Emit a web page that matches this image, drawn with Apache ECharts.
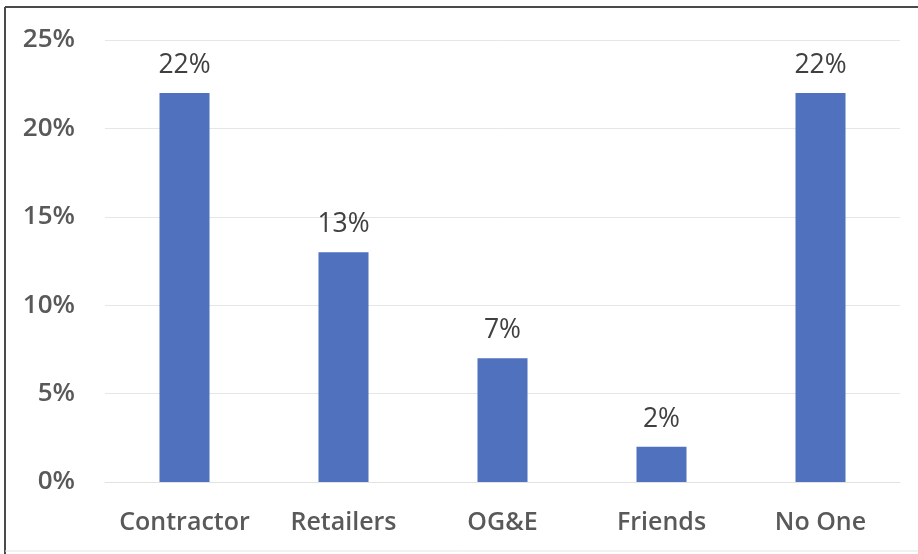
<!DOCTYPE html>
<html>
<head>
<meta charset="utf-8">
<script src="https://cdn.jsdelivr.net/npm/echarts@6/dist/echarts.min.js"></script>
<style>
  html, body { margin: 0; padding: 0; background: #fff; }
  #chart { width: 918px; height: 554px; }
</style>
</head>
<body>
<div id="chart"></div>
<script>
// Who respondents turned to (share of responses)
const categories = ['Contractor', 'Retailers', 'OG&E', 'Friends', 'No One'];
const shares = [22, 13, 7, 2, 22];
const yTicks = [0, 5, 10, 15, 20, 25];

const chart = echarts.init(document.getElementById('chart'));
chart.setOption({
  animation: false,
  backgroundColor: '#ffffff',
  graphic: [
    // frame lines around the chart
    { type: 'line', shape: { x1: 5, y1: 7, x2: 918, y2: 7 }, style: { stroke: '#4a4a4a', lineWidth: 2 } },
    { type: 'line', shape: { x1: 5, y1: 7, x2: 5, y2: 554 }, style: { stroke: '#4a4a4a', lineWidth: 2 } },
    { type: 'line', shape: { x1: 5, y1: 551, x2: 918, y2: 551 }, style: { stroke: '#e4e4e4', lineWidth: 1 } }
  ],
  grid: { left: 105, right: 18, top: 40, bottom: 72, containLabel: false },
  xAxis: {
    type: 'category',
    data: categories,
    axisLine: { show: true, lineStyle: { color: '#e2e2e2', width: 1 } },
    axisTick: { show: false },
    axisLabel: {
      interval: 0,
      hideOverlap: false,
      color: '#595959',
      fontFamily: 'Open Sans',
      fontWeight: 600,
      fontSize: 25,
      margin: 28
    }
  },
  yAxis: {
    type: 'value',
    min: yTicks[0],
    max: yTicks[yTicks.length - 1],
    interval: 5,
    axisLine: { show: false },
    axisTick: { show: false },
    splitLine: { lineStyle: { color: '#e6e6e6', width: 1 } },
    axisLabel: {
      color: '#595959',
      fontFamily: 'Open Sans',
      fontWeight: 600,
      fontSize: 26,
      margin: 30,
      formatter: v => v + '%'
    }
  },
  series: [{
    type: 'bar',
    data: shares,
    barWidth: 50,
    itemStyle: { color: '#4f71be' },
    label: {
      show: true,
      position: 'top',
      distance: 14,
      color: '#404040',
      fontFamily: 'Open Sans',
      fontSize: 26.5,
      formatter: p => p.value + '%'
    }
  }]
});
</script>
</body>
</html>
